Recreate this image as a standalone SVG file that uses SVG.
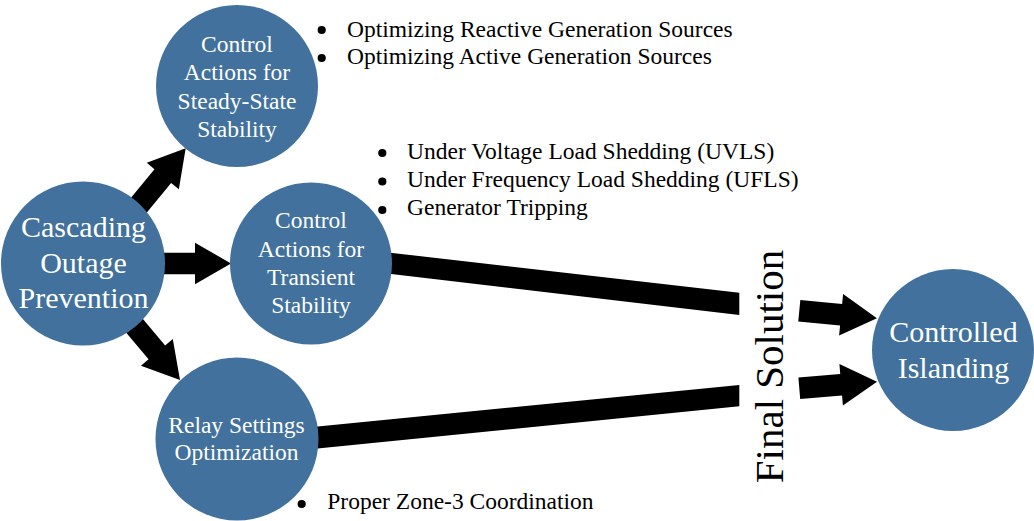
<svg xmlns="http://www.w3.org/2000/svg" width="1034" height="521" viewBox="0 0 1034 521" font-family="'Liberation Serif', 'Times New Roman', serif">
<style>
.node circle{fill:#41719C}
text{font-family:'Liberation Serif','Times New Roman',serif}
.nt{fill:#ffffff;text-anchor:middle}
.s{font-size:23.5px}
.b{font-size:30px}
.bl{font-size:23.5px;fill:#000000}
.conn path,.conn polygon{fill:#000000}
</style>
<defs>
<path id="arr78" d="M0,-10.8 H42 V-20.8 L78,0 L42,20.8 V10.8 H0 Z"/>
<path id="arr80" d="M0,-10.8 H44 V-20.8 L80,0 L44,20.8 V10.8 H0 Z"/>
<circle id="dot" cx="0" cy="0" r="4.1" fill="#000000"/>
</defs>
<g id="connectors" class="conn">
<use href="#arr80" transform="translate(185.7,148.3) rotate(-50.5) translate(-80,0)"/>
<use href="#arr80" transform="translate(231,263.5) translate(-80,0)"/>
<use href="#arr80" transform="translate(180,380) rotate(50) translate(-80,0)"/>
<polygon points="370,250.4 739.3,292.7 739.3,315 370,271.4"/>
<polygon points="300,428.2 739.3,385 739.3,406.3 300,450.2"/>
<use href="#arr78" transform="translate(799.3,310.8) rotate(5.5)"/>
<use href="#arr78" transform="translate(799.3,388.3) rotate(-4.8)"/>
</g>
<g id="node-cascading" class="node">
<circle cx="83" cy="263.5" r="82"/>
<text class="nt b" x="83.5" y="237">Cascading</text>
<text class="nt b" x="83.5" y="272.5">Outage</text>
<text class="nt b" x="83.5" y="308">Prevention</text>
</g>
<g id="node-steady" class="node">
<circle cx="237" cy="86" r="81"/>
<text class="nt s" x="237" y="52">Control</text>
<text class="nt s" x="237" y="80.3">Actions for</text>
<text class="nt s" x="237" y="108.6">Steady-State</text>
<text class="nt s" x="237" y="137">Stability</text>
</g>
<g id="node-transient" class="node">
<circle cx="311" cy="263.5" r="81"/>
<text class="nt s" x="311" y="228">Control</text>
<text class="nt s" x="311" y="256.5">Actions for</text>
<text class="nt s" x="311" y="285">Transient</text>
<text class="nt s" x="311" y="313">Stability</text>
</g>
<g id="node-relay" class="node">
<circle cx="237" cy="439" r="81.5"/>
<text class="nt s" x="236.5" y="433">Relay Settings</text>
<text class="nt s" x="236.5" y="460">Optimization</text>
</g>
<g id="node-islanding" class="node">
<circle cx="953" cy="350" r="81"/>
<text class="nt b" x="953.5" y="342">Controlled</text>
<text class="nt b" x="953.5" y="378">Islanding</text>
</g>
<g id="label-final">
<text transform="translate(783,366.5) rotate(-90)" style="font-size:41px;fill:#000;text-anchor:middle" x="0" y="0">Final Solution</text>
</g>
<g id="bullets-steady">
<use href="#dot" x="321.7" y="30"/>
<text class="bl" x="347" y="36.5">Optimizing Reactive Generation Sources</text>
<use href="#dot" x="321.7" y="58"/>
<text class="bl" x="347" y="64.3">Optimizing Active Generation Sources</text>
</g>
<g id="bullets-transient">
<use href="#dot" x="382.3" y="153"/>
<text class="bl" x="407" y="159">Under Voltage Load Shedding (UVLS)</text>
<use href="#dot" x="382.3" y="181.5"/>
<text class="bl" x="407" y="187">Under Frequency Load Shedding (UFLS)</text>
<use href="#dot" x="382.3" y="210"/>
<text class="bl" x="407" y="215">Generator Tripping</text>
</g>
<g id="bullets-relay">
<use href="#dot" x="301.7" y="504"/>
<text class="bl" x="327.3" y="509">Proper Zone-3 Coordination</text>
</g>
</svg>
